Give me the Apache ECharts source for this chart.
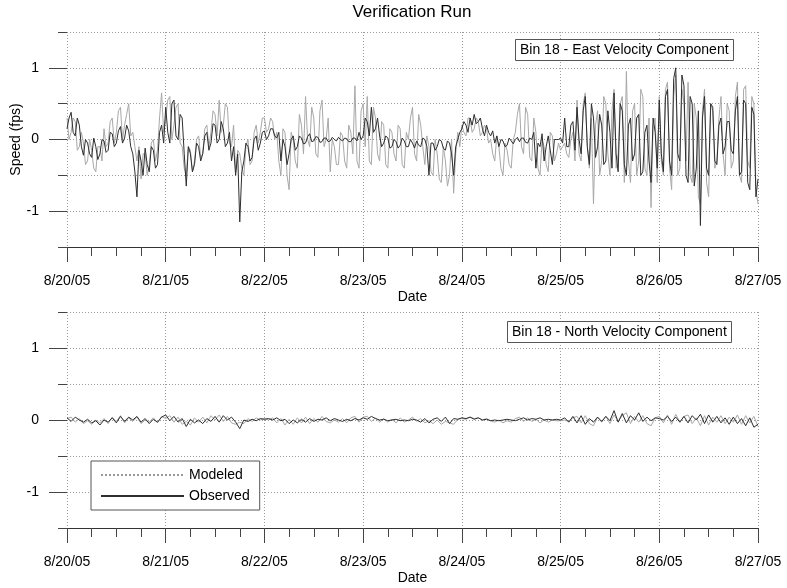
<!DOCTYPE html>
<html>
<head>
<meta charset="utf-8">
<script src="https://cdn.jsdelivr.net/npm/echarts@6/dist/echarts.min.js"></script>
<style>html,body{margin:0;padding:0;background:#fff}#c{width:787px;height:588px}</style>
</head>
<body>
<div id="c"></div>
<script>
// Tick labels (one per day, 24 h apart)
const dateLabels = ['8/20/05','8/21/05','8/22/05','8/23/05','8/24/05','8/25/05','8/26/05','8/27/05'];
const seriesNames = ['Modeled','Observed'];
const panelTitles = ['Bin 18 - East Velocity Component','Bin 18 - North Velocity Component'];

// East component: one value every half hour from 8/20/05 00:00
const eastStepHours = 0.5;
const modEast = [
 0.3,0.0, 0.1,0.3, 0.25,-0.15, -0.1,0.1, -0.05,-0.35, -0.3,0.0, -0.15,-0.4, -0.45,-0.1, -0.1,-0.3, 0.15,-0.1, -0.05,0.25, 0.3,-0.05,
 0.1,0.4, 0.45,0.0, 0.2,0.35, 0.5,0.05, 0.1,-0.1, -0.3,-0.1, -0.55,-0.2, -0.2,-0.5, -0.35,-0.05, 0.0,-0.3, -0.15,0.3, 0.65,0.1,
 0.3,0.55, 0.6,0.0, 0.2,0.45, 0.5,-0.05, -0.1,-0.4, -0.5,-0.1, -0.15,-0.45, -0.3,0.0, 0.05,-0.25, -0.2,0.15, 0.2,-0.1, 0.1,0.4,
 0.35,0.05, 0.55,0.1, 0.2,0.5, 0.45,-0.05, -0.1,0.2, -0.45,-0.15, -0.2,-0.4, -0.5,-0.1, 0.0,-0.35, -0.3,0.1, 0.2,-0.05, 0.1,0.3,
 0.3,0.1, 0.15,0.3, 0.25,0.0, 0.1,-0.3, -0.5,0.15, 0.1,-0.5, -0.7,0.1, 0.0,-0.3, -0.4,0.35, 0.2,-0.2, 0.6,0.0, -0.1,0.45,
 0.3,-0.2, -0.25,0.4, 0.55,-0.1, 0.0,0.3, -0.45,0.0, -0.1,-0.35, -0.35,0.1, 0.05,-0.3, -0.4,0.2, 0.1,-0.2, 0.75,-0.3, -0.4,0.4,
 0.5,-0.1, 0.6,-0.3, -0.35,0.45, 0.3,-0.2, -0.3,0.25, 0.2,-0.35, -0.4,0.15, 0.1,-0.2, -0.3,0.2, 0.15,-0.35, -0.4,0.1, 0.0,0.3,
 0.45,-0.2, -0.3,0.35, 0.2,-0.1, -0.35,0.05, -0.1,-0.45, -0.5,0.0, -0.2,-0.55, -0.6,-0.1, -0.3,-0.65, -0.5,0.0, -0.75,-0.2, 0.1,-0.1,
 0.2,0.1, 0.05,0.3, 0.3,0.1, 0.15,0.3, 0.25,0.05, 0.1,0.2, 0.15,-0.05, 0.0,-0.2, -0.3,0.05, -0.1,-0.4, -0.5,-0.05, -0.15,-0.35,
 -0.4,0.0, 0.1,0.35, 0.5,-0.1, -0.2,0.45, 0.35,-0.25, -0.3,0.3, 0.1,-0.4, -0.5,0.0, -0.1,-0.35, -0.45,0.1, 0.05,-0.3, -0.2,-0.05,
 -0.15,-0.1, -0.05,-0.2, -0.25,0.0, 0.1,-0.3, 0.55,-0.2, -0.3,0.5, 0.65,-0.1, -0.4,0.3, -0.9,0.2, 0.4,-0.5, -0.3,0.6, 0.5,-0.2,
 -0.5,0.4, 0.7,-0.4, -0.2,0.5, 0.6,-0.6, 0.95,-0.3, -0.6,0.4, 0.5,-0.5, -0.3,0.7, 0.6,-0.4, -0.5,0.3, -0.95,0.2, 0.3,-0.6,
 0.6,-0.3, -0.5,0.7, 0.8,-0.4, -0.7,0.6, 0.9,-0.5, -0.4,0.7, 0.5,-0.3, 0.8,-0.5, -0.6,0.5, 0.3,-0.8, -0.9,0.4, 0.7,-0.6,
 -0.8,0.5, 0.4,-0.4, -0.3,0.3, 0.6,-0.2, -0.5,0.5, 0.4,-0.4, -0.3,0.6, 0.8,-0.5, -0.6,0.7, 0.75,-0.3, -0.4,0.6, 0.5,-0.7,
 -0.9
];
const obsEast = [
 0.15,0.3, 0.38,0.1, 0.05,0.3, 0.2,-0.1, -0.22,0.0, -0.05,-0.2, -0.25,0.02, -0.1,-0.28, -0.2,0.0, -0.02,-0.18, -0.15,0.1, 0.08,-0.1,
 -0.05,0.12, 0.18,-0.05, 0.02,0.2, 0.12,-0.1, -0.2,-0.45, -0.8,-0.15, -0.3,-0.5, -0.12,-0.35, -0.45,-0.1, -0.15,-0.4, -0.35,0.1, 0.2,-0.05,
 0.45,0.1, -0.05,0.5, 0.55,0.05, 0.0,0.35, 0.3,-0.2, -0.65,-0.1, -0.2,-0.45, -0.35,-0.05, -0.1,-0.3, -0.2,0.05, 0.1,-0.15, -0.05,0.22,
 0.2,-0.05, 0.0,0.25, 0.15,-0.1, -0.05,0.1, -0.3,-0.1, -0.5,-0.2, -1.15,-0.45, -0.3,-0.05, -0.1,-0.3, -0.25,0.0, 0.05,-0.15, -0.05,0.1,
 0.12,0.0, 0.05,0.15, 0.15,0.05, 0.02,0.1, -0.3,0.0, -0.1,-0.35, -0.2,0.0, 0.05,-0.15, -0.1,0.05, 0.02,-0.06, -0.05,0.04, 0.08,-0.03,
 -0.02,0.04, 0.03,-0.04, -0.03,0.02, 0.02,-0.03, -0.02,0.03, 0.0,-0.02, 0.03,0.0, -0.02,0.02, 0.01,-0.03, -0.03,0.02, 0.02,-0.02, 0.1,0.0,
 0.05,0.3, 0.25,0.05, 0.45,0.1, 0.15,0.3, 0.05,-0.1, -0.05,0.05, 0.02,-0.12, -0.1,0.0, -0.03,-0.12, -0.08,0.02, -0.02,-0.1, -0.1,0.0,
 -0.05,-0.12, -0.02,-0.08, -0.1,0.02, 0.0,-0.1, -0.5,-0.05, -0.05,-0.15, -0.1,0.0, -0.02,-0.12, -0.15,-0.02, -0.05,-0.2, -0.5,-0.1, 0.0,0.1,
 0.15,0.25, 0.2,0.1, 0.3,0.2, 0.35,0.22, 0.25,0.3, 0.15,0.05, 0.2,0.1, 0.05,0.12, -0.05,0.05, -0.1,0.0, -0.02,-0.1, -0.08,0.02,
 -0.02,-0.06, 0.0,0.03, -0.03,0.02, 0.02,-0.04, -0.05,0.02, 0.0,0.1, -0.4,-0.05, -0.1,0.08, -0.3,-0.1, 0.05,-0.15, -0.35,0.0, 0.0,0.0,
 0.02,-0.05, 0.3,-0.1, -0.1,0.2, 0.25,-0.15, 0.45,0.0, -0.2,0.4, 0.6,-0.1, -0.35,0.5, 0.3,-0.25, -0.1,0.35, 0.2,-0.35, -0.3,0.4,
 0.1,-0.4, 0.65,-0.2, -0.45,0.5, 0.4,-0.35, -0.5,0.2, 0.3,-0.3, -0.2,0.3, 0.35,-0.5, -0.45,0.1, 0.2,-0.3, -0.6,0.3, 0.1,-0.4,
 0.55,-0.2, -0.45,0.6, 0.7,-0.3, -0.5,0.85, 1.0,-0.2, -0.3,0.9, 0.75,-0.5, -0.6,0.6, 0.5,-0.65, -0.4,0.4, -1.2,0.3, 0.6,-0.4,
 -0.5,0.5, 0.45,-0.3, -0.35,0.2, 0.3,-0.2, -0.1,0.25, 0.25,-0.15, -0.2,0.4, 0.6,-0.5, -0.45,0.55, 0.5,-0.6, -0.7,0.45, 0.35,-0.8,
 -0.55
];

// North component: one value every hour from 8/20/05 00:00
const northStepHours = 1;
const modNorth = [
 0.02, 0.04, -0.03, 0.02, -0.05, -0.01, -0.06, 0.0, -0.04, 0.02, -0.05, 0.04, -0.02, 0.06, -0.04, 0.03, -0.02, 0.04, -0.05, 0.0, -0.03, 0.03, -0.04, 0.05,
 0.02, 0.06, -0.03, 0.04, -0.06, -0.02, -0.07, 0.03, -0.03, 0.04, -0.04, 0.06, 0.0, 0.07, -0.02, 0.05, -0.04, -0.06, -0.03, -0.05, 0.02, -0.02, 0.03, 0.0,
 0.02, 0.0, 0.03, -0.04, 0.02, -0.07, 0.01, -0.06, 0.03, -0.04, 0.04, -0.05, 0.02, -0.03, 0.05, -0.02, -0.04, 0.0, -0.03, 0.02, -0.04, 0.03, 0.05, -0.03,
 0.04, 0.05, -0.02, 0.03, -0.03, 0.02, -0.03, 0.01, -0.04, 0.03, -0.03, 0.0, 0.04, -0.02, 0.02, -0.04, -0.01, -0.05, 0.0, -0.06, -0.02, -0.04, -0.06, 0.01,
 0.02, 0.01, 0.04, 0.02, 0.03, 0.0, 0.02, -0.01, -0.03, 0.0, -0.04, -0.01, -0.03, 0.02, 0.04, -0.02, 0.03, -0.02, 0.01, -0.04, 0.0, -0.03, 0.0, -0.01,
 -0.01, 0.0, -0.02, 0.03, 0.05, -0.04, 0.06, -0.05, -0.08, 0.04, -0.03, 0.05, -0.05, 0.07, -0.02, 0.06, 0.1, -0.05, 0.05, -0.03, 0.06, -0.05, -0.08, 0.03,
 0.05, -0.04, 0.07, -0.06, 0.08, -0.03, 0.05, 0.07, -0.05, 0.03, -0.08, 0.06, -0.07, 0.04, -0.03, 0.06, -0.05, 0.04, -0.03, 0.07, -0.06, 0.06, -0.04, 0.05, -0.09
];
const obsNorth = [
 0.03, -0.02, 0.04, 0.0, -0.03, 0.01, -0.04, -0.01, -0.07, 0.0, -0.03, 0.03, -0.04, 0.05, -0.02, 0.04, 0.0, 0.05, -0.03, 0.02, -0.05, 0.01, -0.03, 0.04,
 0.07, -0.01, 0.05, -0.03, 0.02, -0.09, 0.01, -0.04, 0.0, -0.05, 0.02, -0.02, 0.05, -0.03, 0.06, 0.0, 0.04, -0.03, -0.12, 0.0, -0.02, 0.01, -0.01, 0.02,
 0.01, 0.02, 0.0, 0.03, -0.01, 0.01, -0.05, 0.0, -0.04, 0.01, -0.03, 0.02, -0.02, 0.01, 0.0, 0.03, -0.01, 0.02, 0.0, -0.02, 0.01, -0.01, 0.02, 0.0,
 0.03, 0.01, 0.05, 0.02, 0.0, 0.01, -0.01, 0.0, 0.01, -0.01, 0.0, -0.01, 0.01, 0.0, -0.03, 0.02, -0.04, 0.01, 0.03, -0.02, 0.04, -0.05, 0.02, 0.01,
 0.03, 0.02, 0.04, 0.01, 0.03, 0.0, 0.01, -0.01, 0.0, -0.01, 0.0, 0.01, 0.0, -0.01, 0.01, 0.03, 0.0, 0.02, 0.01, 0.03, 0.0, 0.01, 0.0, 0.01,
 0.0, 0.03, -0.03, 0.05, -0.04, 0.06, -0.06, 0.02, -0.03, 0.04, -0.02, 0.05, -0.01, 0.13, -0.03, 0.09, -0.04, 0.06, 0.0, 0.1, -0.02, 0.04, -0.01, 0.03,
 0.02, 0.0, 0.05, -0.02, 0.04, -0.03, 0.05, -0.04, 0.06, 0.0, 0.08, -0.05, 0.07, -0.03, 0.05, -0.04, 0.03, -0.06, 0.04, -0.05, 0.02, -0.08, 0.03, -0.1, -0.06
];

const FONT = '"Liberation Sans", Arial, Helvetica, sans-serif';
const toPairs = (arr, step) => arr.map((v, i) => [i * step, v]);   // x = hours since 8/20/05 00:00
const GRID_COLOR = '#9a9a9a';
const MOD_COLOR = '#a8a8a8';
const OBS_COLOR = '#2e2e2e';

function xAxisFor(gi) {
  return {
    type: 'value', gridIndex: gi, min: 0, max: 168, interval: 24,
    name: 'Date', nameLocation: 'middle', nameGap: 43, nameMoveOverlap: false,
    nameTextStyle: { fontFamily: FONT, fontSize: 14, color: '#000' },
    axisLine: { show: true, onZero: false, lineStyle: { color: '#333', width: 1 } },
    axisTick: { show: true, inside: false, length: 15, lineStyle: { color: '#444' } },
    minorTick: { show: true, splitNumber: 4, length: 9, lineStyle: { color: '#444' } },
    axisLabel: { margin: 27, fontFamily: FONT, fontSize: 14, color: '#000',
      formatter: v => dateLabels[Math.round(v / 24)] },
    splitLine: { show: true, lineStyle: { color: GRID_COLOR, type: [1, 2], width: 1 } }
  };
}
function yAxisMain(gi, withName) {
  return {
    type: 'value', gridIndex: gi, min: -1.5, max: 1.5, interval: 0.5,
    name: withName ? 'Speed (fps)' : '', nameLocation: 'middle', nameGap: 44, nameMoveOverlap: false,
    nameTextStyle: { fontFamily: FONT, fontSize: 14, color: '#000' },
    axisLine: { show: false },
    axisTick: { show: true, length: 9, lineStyle: { color: '#444' } },
    axisLabel: { margin: 28, fontFamily: FONT, fontSize: 14, color: '#000',
      formatter: v => (Math.abs(v - Math.round(v)) < 1e-9 ? String(Math.round(v)) : '') },
    splitLine: { show: true, lineStyle: { color: GRID_COLOR, type: [1, 2], width: 1 } }
  };
}
function yAxisLongTicks(gi) {
  return {
    type: 'value', gridIndex: gi, min: -1.5, max: 1.5, position: 'left',
    axisLine: { show: false },
    axisTick: { show: true, length: 18, customValues: [-1, 0, 1], lineStyle: { color: '#444' } },
    axisLabel: { show: false },
    splitLine: { show: false }
  };
}
function lineSeries(name, data, step, xi, yi, color, z) {
  return {
    name, type: 'line', xAxisIndex: xi, yAxisIndex: yi, data: toPairs(data, step),
    symbol: 'none', showSymbol: false, animation: false, z,
    lineStyle: { color, width: 1 }, itemStyle: { color }
  };
}

const chart = echarts.init(document.getElementById('c'), null, { renderer: 'canvas' });
chart.setOption({
  animation: false,
  backgroundColor: '#fff',
  title: [
    { text: 'Verification Run', left: 412, top: 4, textAlign: 'center', padding: 0,
      textStyle: { fontFamily: FONT, fontSize: 17, fontWeight: 'normal', color: '#000' } },
    { text: panelTitles[0], left: 515, top: 39, padding: [4, 5, 4, 5],
      borderColor: '#555', borderWidth: 1, backgroundColor: '#fff',
      textStyle: { fontFamily: FONT, fontSize: 14, fontWeight: 'normal', color: '#000' } },
    { text: panelTitles[1], left: 507, top: 321, padding: [4, 5, 4, 5],
      borderColor: '#555', borderWidth: 1, backgroundColor: '#fff',
      textStyle: { fontFamily: FONT, fontSize: 14, fontWeight: 'normal', color: '#000' } }
  ],
  legend: {
    data: [
      { name: seriesNames[0], lineStyle: { type: [2, 2], color: '#999' } },
      { name: seriesNames[1] }
    ],
    orient: 'vertical', left: 91, top: 461,
    padding: [7, 10, 7, 9], itemWidth: 83, itemHeight: 14, itemGap: 7,
    itemStyle: { opacity: 0 },
    borderColor: '#555', borderWidth: 1, backgroundColor: '#fff',
    textStyle: { fontFamily: FONT, fontSize: 14, color: '#000' },
    selectedMode: false
  },
  grid: [
    { left: 67, right: 29, top: 32, height: 215, outerBoundsMode: 'none', containLabel: false },
    { left: 67, right: 29, top: 312, height: 216, outerBoundsMode: 'none', containLabel: false }
  ],
  xAxis: [xAxisFor(0), xAxisFor(1)],
  yAxis: [yAxisMain(0, true), yAxisLongTicks(0), yAxisMain(1, false), yAxisLongTicks(1)],
  series: [
    lineSeries(seriesNames[0], modEast, eastStepHours, 0, 0, MOD_COLOR, 2),
    lineSeries(seriesNames[1], obsEast, eastStepHours, 0, 0, OBS_COLOR, 3),
    lineSeries(seriesNames[0], modNorth, northStepHours, 1, 2, MOD_COLOR, 2),
    lineSeries(seriesNames[1], obsNorth, northStepHours, 1, 2, OBS_COLOR, 3)
  ]
});
</script>
</body>
</html>
